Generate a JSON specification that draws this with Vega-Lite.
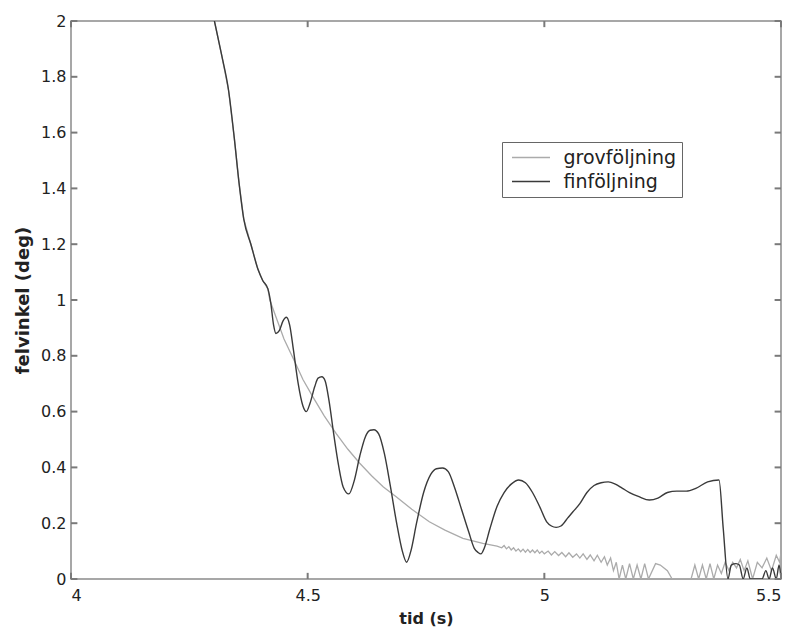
{
  "$schema": "https://vega.github.io/schema/vega-lite/v6.json",
  "autosize": "none",
  "width": 710,
  "height": 558,
  "padding": {"left": 71, "top": 21, "right": 14, "bottom": 49},
  "background": "white",
  "datasets": {
    "xticks": [{"p": 4}, {"p": 4.5}, {"p": 5}, {"p": 5.5}],
    "yticks": [{"p": 0}, {"p": 0.2}, {"p": 0.4}, {"p": 0.6}, {"p": 0.8}, {"p": 1}, {"p": 1.2}, {"p": 1.4}, {"p": 1.6}, {"p": 1.8}, {"p": 2}]
  },
  "data": {"values": [
    {"t": 4.29, "v": 2.11, "s": "grovföljning"},
    {"t": 4.303, "v": 2.0, "s": "grovföljning"},
    {"t": 4.318, "v": 1.88, "s": "grovföljning"},
    {"t": 4.333, "v": 1.75, "s": "grovföljning"},
    {"t": 4.345, "v": 1.58, "s": "grovföljning"},
    {"t": 4.355, "v": 1.42, "s": "grovföljning"},
    {"t": 4.365, "v": 1.29, "s": "grovföljning"},
    {"t": 4.38, "v": 1.2, "s": "grovföljning"},
    {"t": 4.395, "v": 1.11, "s": "grovföljning"},
    {"t": 4.405, "v": 1.07, "s": "grovföljning"},
    {"t": 4.416, "v": 1.04, "s": "grovföljning"},
    {"t": 4.42, "v": 1.0, "s": "grovföljning"},
    {"t": 4.435, "v": 0.93, "s": "grovföljning"},
    {"t": 4.45, "v": 0.86, "s": "grovföljning"},
    {"t": 4.474, "v": 0.774, "s": "grovföljning"},
    {"t": 4.49, "v": 0.715, "s": "grovföljning"},
    {"t": 4.511, "v": 0.653, "s": "grovföljning"},
    {"t": 4.535, "v": 0.585, "s": "grovföljning"},
    {"t": 4.56, "v": 0.522, "s": "grovföljning"},
    {"t": 4.585, "v": 0.465, "s": "grovföljning"},
    {"t": 4.61, "v": 0.415, "s": "grovföljning"},
    {"t": 4.635, "v": 0.37, "s": "grovföljning"},
    {"t": 4.66, "v": 0.33, "s": "grovföljning"},
    {"t": 4.687, "v": 0.295, "s": "grovföljning"},
    {"t": 4.72, "v": 0.25, "s": "grovföljning"},
    {"t": 4.757, "v": 0.205, "s": "grovföljning"},
    {"t": 4.79, "v": 0.175, "s": "grovföljning"},
    {"t": 4.828, "v": 0.146, "s": "grovföljning"},
    {"t": 4.87, "v": 0.128, "s": "grovföljning"},
    {"t": 4.9, "v": 0.118, "s": "grovföljning"},
    {"t": 4.91, "v": 0.112, "s": "grovföljning"},
    {"t": 4.915, "v": 0.12, "s": "grovföljning"},
    {"t": 4.92, "v": 0.108, "s": "grovföljning"},
    {"t": 4.925, "v": 0.116, "s": "grovföljning"},
    {"t": 4.93, "v": 0.104, "s": "grovföljning"},
    {"t": 4.935, "v": 0.112, "s": "grovföljning"},
    {"t": 4.94, "v": 0.1, "s": "grovföljning"},
    {"t": 4.945, "v": 0.108, "s": "grovföljning"},
    {"t": 4.95, "v": 0.098, "s": "grovföljning"},
    {"t": 4.955, "v": 0.107, "s": "grovföljning"},
    {"t": 4.96, "v": 0.096, "s": "grovföljning"},
    {"t": 4.965, "v": 0.106, "s": "grovföljning"},
    {"t": 4.97, "v": 0.095, "s": "grovföljning"},
    {"t": 4.975, "v": 0.104, "s": "grovföljning"},
    {"t": 4.98, "v": 0.094, "s": "grovföljning"},
    {"t": 4.985, "v": 0.104, "s": "grovföljning"},
    {"t": 4.99, "v": 0.092, "s": "grovföljning"},
    {"t": 4.995, "v": 0.1, "s": "grovföljning"},
    {"t": 5.0, "v": 0.09, "s": "grovföljning"},
    {"t": 5.008, "v": 0.1, "s": "grovföljning"},
    {"t": 5.015, "v": 0.086, "s": "grovföljning"},
    {"t": 5.022, "v": 0.098, "s": "grovföljning"},
    {"t": 5.03, "v": 0.084, "s": "grovföljning"},
    {"t": 5.037, "v": 0.095, "s": "grovföljning"},
    {"t": 5.045, "v": 0.08, "s": "grovföljning"},
    {"t": 5.052, "v": 0.094, "s": "grovföljning"},
    {"t": 5.06, "v": 0.078, "s": "grovföljning"},
    {"t": 5.068, "v": 0.09, "s": "grovföljning"},
    {"t": 5.075, "v": 0.075, "s": "grovföljning"},
    {"t": 5.082, "v": 0.09, "s": "grovföljning"},
    {"t": 5.09, "v": 0.07, "s": "grovföljning"},
    {"t": 5.097, "v": 0.086, "s": "grovföljning"},
    {"t": 5.105, "v": 0.065, "s": "grovföljning"},
    {"t": 5.112, "v": 0.085, "s": "grovföljning"},
    {"t": 5.12, "v": 0.06, "s": "grovföljning"},
    {"t": 5.127, "v": 0.08, "s": "grovföljning"},
    {"t": 5.133, "v": 0.05, "s": "grovföljning"},
    {"t": 5.14, "v": 0.075, "s": "grovföljning"},
    {"t": 5.146, "v": 0.03, "s": "grovföljning"},
    {"t": 5.152, "v": 0.06, "s": "grovföljning"},
    {"t": 5.158, "v": 0.0, "s": "grovföljning"},
    {"t": 5.165, "v": 0.05, "s": "grovföljning"},
    {"t": 5.172, "v": 0.0, "s": "grovföljning"},
    {"t": 5.18, "v": 0.055, "s": "grovföljning"},
    {"t": 5.188, "v": 0.0, "s": "grovföljning"},
    {"t": 5.196, "v": 0.05, "s": "grovföljning"},
    {"t": 5.204, "v": 0.0, "s": "grovföljning"},
    {"t": 5.212, "v": 0.055, "s": "grovföljning"},
    {"t": 5.22, "v": 0.0, "s": "grovföljning"},
    {"t": 5.235, "v": 0.055, "s": "grovföljning"},
    {"t": 5.245, "v": 0.05, "s": "grovföljning"},
    {"t": 5.26, "v": 0.03, "s": "grovföljning"},
    {"t": 5.27, "v": 0.0, "s": "grovföljning"},
    {"t": 5.31, "v": 0.0, "s": "grovföljning"},
    {"t": 5.318, "v": 0.05, "s": "grovföljning"},
    {"t": 5.326, "v": 0.0, "s": "grovföljning"},
    {"t": 5.334, "v": 0.05, "s": "grovföljning"},
    {"t": 5.342, "v": 0.0, "s": "grovföljning"},
    {"t": 5.35, "v": 0.055, "s": "grovföljning"},
    {"t": 5.358, "v": 0.0, "s": "grovföljning"},
    {"t": 5.366, "v": 0.05, "s": "grovföljning"},
    {"t": 5.374, "v": 0.02, "s": "grovföljning"},
    {"t": 5.382, "v": 0.06, "s": "grovföljning"},
    {"t": 5.39, "v": 0.03, "s": "grovföljning"},
    {"t": 5.398, "v": 0.06, "s": "grovföljning"},
    {"t": 5.406, "v": 0.04, "s": "grovföljning"},
    {"t": 5.414, "v": 0.07, "s": "grovföljning"},
    {"t": 5.422, "v": 0.03, "s": "grovföljning"},
    {"t": 5.43, "v": 0.065, "s": "grovföljning"},
    {"t": 5.44, "v": 0.0, "s": "grovföljning"},
    {"t": 5.45, "v": 0.06, "s": "grovföljning"},
    {"t": 5.46, "v": 0.04, "s": "grovföljning"},
    {"t": 5.47, "v": 0.075, "s": "grovföljning"},
    {"t": 5.48, "v": 0.03, "s": "grovföljning"},
    {"t": 5.49, "v": 0.085, "s": "grovföljning"},
    {"t": 5.497, "v": 0.06, "s": "grovföljning"},
    {"t": 5.5, "v": 0.095, "s": "grovföljning"},

    {"t": 4.29, "v": 2.11, "s": "finföljning"},
    {"t": 4.303, "v": 2.0, "s": "finföljning"},
    {"t": 4.318, "v": 1.88, "s": "finföljning"},
    {"t": 4.333, "v": 1.75, "s": "finföljning"},
    {"t": 4.345, "v": 1.58, "s": "finföljning"},
    {"t": 4.355, "v": 1.42, "s": "finföljning"},
    {"t": 4.365, "v": 1.29, "s": "finföljning"},
    {"t": 4.38, "v": 1.2, "s": "finföljning"},
    {"t": 4.395, "v": 1.11, "s": "finföljning"},
    {"t": 4.405, "v": 1.07, "s": "finföljning"},
    {"t": 4.416, "v": 1.04, "s": "finföljning"},
    {"t": 4.422, "v": 0.99, "s": "finföljning"},
    {"t": 4.428, "v": 0.91, "s": "finföljning"},
    {"t": 4.433, "v": 0.88, "s": "finföljning"},
    {"t": 4.44, "v": 0.89, "s": "finföljning"},
    {"t": 4.448, "v": 0.925, "s": "finföljning"},
    {"t": 4.455, "v": 0.938, "s": "finföljning"},
    {"t": 4.462, "v": 0.91, "s": "finföljning"},
    {"t": 4.47, "v": 0.82, "s": "finföljning"},
    {"t": 4.48, "v": 0.7, "s": "finföljning"},
    {"t": 4.49, "v": 0.62, "s": "finföljning"},
    {"t": 4.497, "v": 0.6, "s": "finföljning"},
    {"t": 4.505, "v": 0.63, "s": "finföljning"},
    {"t": 4.515, "v": 0.69, "s": "finföljning"},
    {"t": 4.522, "v": 0.72, "s": "finföljning"},
    {"t": 4.53, "v": 0.725, "s": "finföljning"},
    {"t": 4.537, "v": 0.71, "s": "finföljning"},
    {"t": 4.545, "v": 0.64, "s": "finföljning"},
    {"t": 4.555, "v": 0.52, "s": "finföljning"},
    {"t": 4.565, "v": 0.41, "s": "finföljning"},
    {"t": 4.575, "v": 0.33, "s": "finföljning"},
    {"t": 4.587, "v": 0.305, "s": "finföljning"},
    {"t": 4.598, "v": 0.35, "s": "finföljning"},
    {"t": 4.61, "v": 0.44, "s": "finföljning"},
    {"t": 4.622, "v": 0.51, "s": "finföljning"},
    {"t": 4.632, "v": 0.533, "s": "finföljning"},
    {"t": 4.64, "v": 0.535, "s": "finföljning"},
    {"t": 4.65, "v": 0.52, "s": "finföljning"},
    {"t": 4.662, "v": 0.45, "s": "finföljning"},
    {"t": 4.675, "v": 0.33, "s": "finföljning"},
    {"t": 4.688, "v": 0.2, "s": "finföljning"},
    {"t": 4.7, "v": 0.1, "s": "finföljning"},
    {"t": 4.709, "v": 0.06, "s": "finföljning"},
    {"t": 4.718, "v": 0.1, "s": "finföljning"},
    {"t": 4.73, "v": 0.2, "s": "finföljning"},
    {"t": 4.745, "v": 0.31, "s": "finföljning"},
    {"t": 4.76, "v": 0.375, "s": "finföljning"},
    {"t": 4.772, "v": 0.395, "s": "finföljning"},
    {"t": 4.785, "v": 0.398, "s": "finföljning"},
    {"t": 4.797, "v": 0.385, "s": "finföljning"},
    {"t": 4.81, "v": 0.33, "s": "finföljning"},
    {"t": 4.825, "v": 0.25, "s": "finföljning"},
    {"t": 4.84, "v": 0.17, "s": "finföljning"},
    {"t": 4.852, "v": 0.11, "s": "finföljning"},
    {"t": 4.86, "v": 0.095, "s": "finföljning"},
    {"t": 4.866, "v": 0.09, "s": "finföljning"},
    {"t": 4.873, "v": 0.11, "s": "finföljning"},
    {"t": 4.885, "v": 0.18, "s": "finföljning"},
    {"t": 4.9, "v": 0.26, "s": "finföljning"},
    {"t": 4.915, "v": 0.31, "s": "finföljning"},
    {"t": 4.93, "v": 0.34, "s": "finföljning"},
    {"t": 4.946, "v": 0.355, "s": "finföljning"},
    {"t": 4.96, "v": 0.345, "s": "finföljning"},
    {"t": 4.975, "v": 0.31, "s": "finföljning"},
    {"t": 4.99, "v": 0.26, "s": "finföljning"},
    {"t": 5.005, "v": 0.205, "s": "finföljning"},
    {"t": 5.015, "v": 0.19, "s": "finföljning"},
    {"t": 5.025, "v": 0.185, "s": "finföljning"},
    {"t": 5.035, "v": 0.19, "s": "finföljning"},
    {"t": 5.05, "v": 0.22, "s": "finföljning"},
    {"t": 5.06, "v": 0.24, "s": "finföljning"},
    {"t": 5.075, "v": 0.27, "s": "finföljning"},
    {"t": 5.09, "v": 0.31, "s": "finföljning"},
    {"t": 5.105, "v": 0.335, "s": "finföljning"},
    {"t": 5.12, "v": 0.345, "s": "finföljning"},
    {"t": 5.135, "v": 0.348, "s": "finföljning"},
    {"t": 5.15, "v": 0.34, "s": "finföljning"},
    {"t": 5.165, "v": 0.325, "s": "finföljning"},
    {"t": 5.18, "v": 0.31, "s": "finföljning"},
    {"t": 5.2, "v": 0.295, "s": "finföljning"},
    {"t": 5.222, "v": 0.283, "s": "finföljning"},
    {"t": 5.24, "v": 0.29, "s": "finföljning"},
    {"t": 5.26, "v": 0.31, "s": "finföljning"},
    {"t": 5.28, "v": 0.315, "s": "finföljning"},
    {"t": 5.3, "v": 0.315, "s": "finföljning"},
    {"t": 5.32, "v": 0.325, "s": "finföljning"},
    {"t": 5.345, "v": 0.348, "s": "finföljning"},
    {"t": 5.369, "v": 0.355, "s": "finföljning"},
    {"t": 5.378, "v": 0.18, "s": "finföljning"},
    {"t": 5.388, "v": 0.0, "s": "finföljning"},
    {"t": 5.395, "v": 0.05, "s": "finföljning"},
    {"t": 5.405, "v": 0.055, "s": "finföljning"},
    {"t": 5.412, "v": 0.05, "s": "finföljning"},
    {"t": 5.42, "v": 0.0, "s": "finföljning"},
    {"t": 5.428, "v": 0.04, "s": "finföljning"},
    {"t": 5.435, "v": 0.0, "s": "finföljning"},
    {"t": 5.46, "v": 0.0, "s": "finföljning"},
    {"t": 5.468, "v": 0.03, "s": "finföljning"},
    {"t": 5.475, "v": 0.0, "s": "finföljning"},
    {"t": 5.482, "v": 0.04, "s": "finföljning"},
    {"t": 5.49, "v": 0.0, "s": "finföljning"},
    {"t": 5.496, "v": 0.05, "s": "finföljning"},
    {"t": 5.5, "v": 0.0, "s": "finföljning"}
  ]},
  "layer": [
    {
      "transform": [{"filter": "datum.s == 'grovföljning'"}],
      "mark": {"type": "line", "clip": true, "strokeWidth": 1.3},
      "encoding": {
        "x": {"field": "t", "type": "quantitative",
          "scale": {"domain": [4, 5.5], "nice": false, "zero": false},
          "axis": {"orient": "bottom", "values": [4, 4.5, 5, 5.5], "format": ".1~f", "title": "tid (s)", "labelPadding": 8, "titlePadding": 7}},
        "y": {"field": "v", "type": "quantitative",
          "scale": {"domain": [0, 2], "nice": false},
          "axis": {"orient": "left", "values": [0, 0.2, 0.4, 0.6, 0.8, 1, 1.2, 1.4, 1.6, 1.8, 2], "format": ".1~f", "title": "felvinkel (deg)", "labelPadding": 5, "titlePadding": 8, "titleFontSize": 18}},
        "color": {"field": "s", "type": "nominal",
          "scale": {"domain": ["grovföljning", "finföljning"], "range": ["#ababab", "#3a3a3a"]},
          "legend": {"title": null, "orient": "none", "legendX": 431, "legendY": 121,
            "symbolType": "M-2,0H2", "symbolSize": 361, "symbolStrokeWidth": 1.4, "symbolOffset": 13.5,
            "labelFont": "DejaVu Sans", "labelFontSize": 19, "labelColor": "#222", "labelOffset": 22,
            "padding": 5, "rowPadding": 3, "strokeColor": "#666", "fillColor": "white", "cornerRadius": 0}},
        "order": {"field": "t", "type": "quantitative"}
      }
    },
    {
      "transform": [{"filter": "datum.s == 'finföljning'"}],
      "mark": {"type": "line", "clip": true, "strokeWidth": 1.4, "interpolate": "monotone"},
      "encoding": {
        "x": {"field": "t", "type": "quantitative"},
        "y": {"field": "v", "type": "quantitative"},
        "color": {"field": "s", "type": "nominal"},
        "order": {"field": "t", "type": "quantitative"}
      }
    },
    {
      "data": {"name": "xticks"},
      "mark": {"type": "rule", "strokeWidth": 2, "color": "#7a7a7a", "opacity": 1},
      "encoding": {
        "x": {"field": "p", "type": "quantitative"},
        "y": {"datum": 0, "type": "quantitative"},
        "y2": {"datum": 0.022}
      }
    },
    {
      "data": {"name": "xticks"},
      "mark": {"type": "rule", "strokeWidth": 2, "color": "#7a7a7a", "opacity": 1},
      "encoding": {
        "x": {"field": "p", "type": "quantitative"},
        "y": {"datum": 2, "type": "quantitative"},
        "y2": {"datum": 1.978}
      }
    },
    {
      "data": {"name": "yticks"},
      "mark": {"type": "rule", "strokeWidth": 2, "color": "#7a7a7a", "opacity": 1},
      "encoding": {
        "y": {"field": "p", "type": "quantitative"},
        "x": {"datum": 4, "type": "quantitative"},
        "x2": {"datum": 4.0135}
      }
    },
    {
      "data": {"name": "yticks"},
      "mark": {"type": "rule", "strokeWidth": 2, "color": "#7a7a7a", "opacity": 1},
      "encoding": {
        "y": {"field": "p", "type": "quantitative"},
        "x": {"datum": 5.5, "type": "quantitative"},
        "x2": {"datum": 5.4865}
      }
    }
  ],
  "config": {
    "view": {"stroke": "#8a8a8a", "strokeWidth": 1.5},
    "axis": {
      "grid": false, "domain": false, "ticks": false,
      "labelFont": "DejaVu Sans", "labelFontSize": 16, "labelColor": "#222",
      "titleFont": "DejaVu Sans", "titleFontSize": 16, "titleFontWeight": "bold", "titleColor": "#222"
    }
  }
}
